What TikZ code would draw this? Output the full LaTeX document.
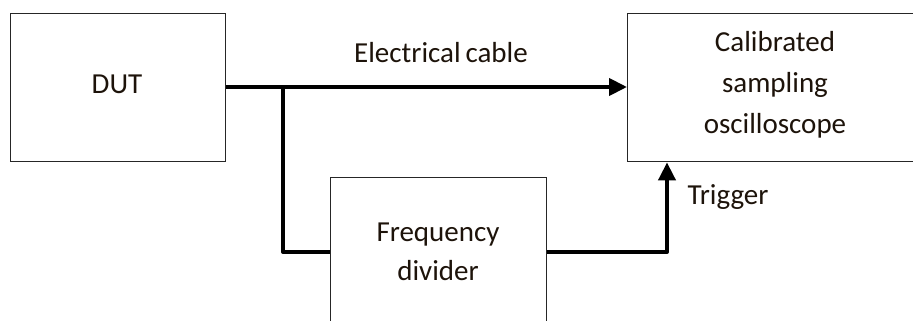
\documentclass[tikz,border=0pt]{standalone}
\usepackage{fontspec}
\setmainfont{Carlito}
\usetikzlibrary{arrows.meta}
\begin{document}
\begin{tikzpicture}[x=1pt,y=-1pt,
  blk/.style={draw=black!85, line width=1.4pt, inner sep=0pt, anchor=north west},
  txt/.style={font=\fontsize{29}{41}\selectfont, text=black!85!brown, align=center},
  wire/.style={line width=4pt, line join=round},
  arr/.style={wire, -{Triangle[length=18pt,width=17pt]}}]
\useasboundingbox (0,0) rectangle (913,321);
\clip (0,0) rectangle (913,321);
\node[blk, minimum width=215pt, minimum height=148pt] (dut) at (10,13) {};
\node[blk, minimum width=300pt, minimum height=148pt] (osc) at (627,13) {};
\node[blk, minimum width=216pt, minimum height=160pt] (div) at (330,177) {};
\node[txt] (dutt) at (117,84) {DUT};
\node[txt] (osct) at (775,85) {Calibrated\\sampling\\oscilloscope};
\node[txt, font=\fontsize{29}{39}\selectfont] (divt) at (438,252) {Frequency\\divider};
\node[txt] (cab) at (441,53) {Electrical\hspace{-0.06em} cable};
\node[txt, anchor=west] (trig) at (684,197) {Trigger};
\coordinate (br) at (283,87);
\coordinate (bl) at (283,252);
\coordinate (tr) at (667,252);
\draw[arr] (dut.east |- br) -- (osc.west |- br);
\draw[wire] (br) -- (bl) -- (div.west |- bl);
\draw[arr] (div.east |- tr) -- (tr) -- (tr |- osc.south);
\end{tikzpicture}
\end{document}
